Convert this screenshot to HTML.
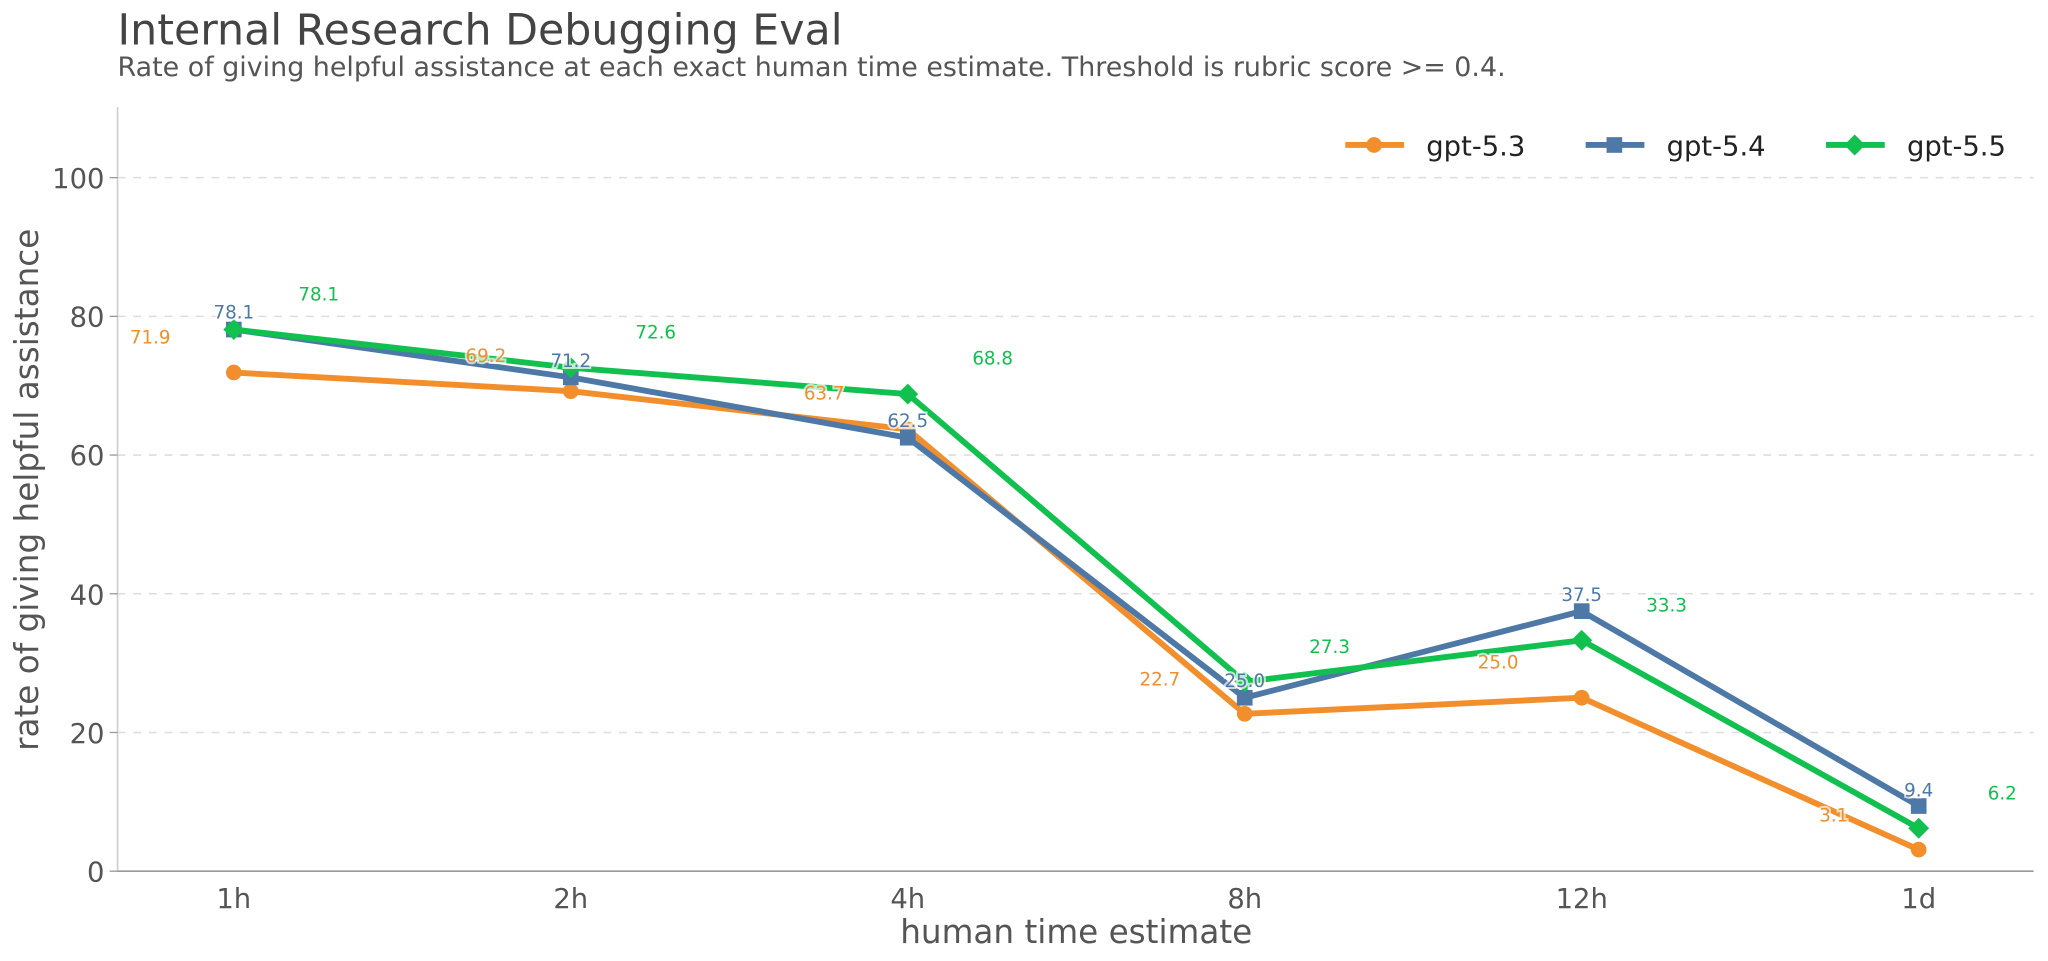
<!DOCTYPE html>
<html><head><meta charset="utf-8"><style>
html,body{margin:0;padding:0;background:#fff;}
svg{display:block;font-family:"DejaVu Sans","Liberation Sans",sans-serif;}
</style></head><body>
<svg width="2048" height="961" viewBox="0 0 1568 735.75" xmlns="http://www.w3.org/2000/svg">
<text x="90" y="34" font-size="32.7" fill="#444">Internal Research Debugging Eval</text>
<text x="90" y="58" font-size="20.6" fill="#555">Rate of giving helpful assistance at each exact human time estimate. Threshold is rubric score &gt;= 0.4.</text>
<g stroke="#ddd" stroke-width="1.2" stroke-dasharray="6,6">
<line x1="90" x2="1557" y1="560.8" y2="560.8"/>
<line x1="90" x2="1557" y1="454.6" y2="454.6"/>
<line x1="90" x2="1557" y1="348.4" y2="348.4"/>
<line x1="90" x2="1557" y1="242.2" y2="242.2"/>
<line x1="90" x2="1557" y1="136" y2="136"/>
</g>
<line x1="90" y1="82" x2="90" y2="667" stroke="#ccc" stroke-width="1.2"/>
<line x1="90" y1="667" x2="1557" y2="667" stroke="#999" stroke-width="1.2"/>
<g font-size="21" fill="#555" text-anchor="end">
<text x="80" y="675">0</text><text x="80" y="569">20</text><text x="80" y="463">40</text>
<text x="80" y="356">60</text><text x="80" y="250">80</text><text x="80" y="144">100</text>
</g>
<g stroke="#999" stroke-width="1"><line x1="84" x2="90" y1="667" y2="667"/><line x1="84" x2="90" y1="560.8" y2="560.8"/><line x1="84" x2="90" y1="454.6" y2="454.6"/><line x1="84" x2="90" y1="348.4" y2="348.4"/><line x1="84" x2="90" y1="242.2" y2="242.2"/><line x1="84" x2="90" y1="136" y2="136"/></g>
<g font-size="21" fill="#555" text-anchor="middle">
<text x="179" y="695">1h</text><text x="437" y="695">2h</text><text x="695" y="695">4h</text>
<text x="953" y="695">8h</text><text x="1211" y="695">12h</text><text x="1469" y="695">1d</text>
</g>
<text x="824" y="722" font-size="25" fill="#555" text-anchor="middle">human time estimate</text>
<text transform="translate(29,375) rotate(-90)" font-size="25" fill="#555" text-anchor="middle">rate of giving helpful assistance</text>
<polyline fill="none" stroke="#f28e2b" stroke-width="4.5" stroke-linejoin="round" points="179,285.2 437,299.5 695,328.7 953,546.5 1211,534.2 1469,650.5"/>
<g fill="#f28e2b"><circle cx="179" cy="285.2" r="6"/><circle cx="437" cy="299.5" r="6"/><circle cx="695" cy="328.7" r="6"/><circle cx="953" cy="546.5" r="6"/><circle cx="1211" cy="534.2" r="6"/><circle cx="1469" cy="650.5" r="6"/></g>
<polyline fill="none" stroke="#4e79a7" stroke-width="4.5" stroke-linejoin="round" points="179,252.3 437,288.9 695,335.1 953,534.2 1211,467.9 1469,617.1"/>
<g fill="#4e79a7"><rect x="173" y="246.3" width="12" height="12"/><rect x="431" y="282.9" width="12" height="12"/><rect x="689" y="329.1" width="12" height="12"/><rect x="947" y="528.2" width="12" height="12"/><rect x="1205" y="461.9" width="12" height="12"/><rect x="1463" y="611.1" width="12" height="12"/></g>
<polyline fill="none" stroke="#12c04f" stroke-width="4.5" stroke-linejoin="round" points="179,252.3 437,281.5 695,301.7 953,522 1211,490.2 1469,634.1"/>
<g fill="#12c04f">
<path d="M179,244.3 l8,8 l-8,8 l-8,-8z"/><path d="M437,273.5 l8,8 l-8,8 l-8,-8z"/><path d="M695,293.7 l8,8 l-8,8 l-8,-8z"/>
<path d="M953,514 l8,8 l-8,8 l-8,-8z"/><path d="M1211,482.2 l8,8 l-8,8 l-8,-8z"/><path d="M1469,626.1 l8,8 l-8,8 l-8,-8z"/></g>
<g font-size="14" text-anchor="middle" stroke="#fff" stroke-width="3" paint-order="stroke" stroke-opacity="0.7">
<g fill="#f28e2b"><text x="115" y="263">71.9</text><text x="372" y="277">69.2</text><text x="631" y="306">63.7</text><text x="888" y="525">22.7</text><text x="1147" y="512">25.0</text><text x="1404" y="629">3.1</text></g>
<g fill="#4e79a7"><text x="179" y="244">78.1</text><text x="437" y="281">71.2</text><text x="695" y="327">62.5</text><text x="953" y="526">25.0</text><text x="1211" y="460">37.5</text><text x="1469" y="610">9.4</text></g>
<g fill="#12c04f"><text x="244" y="230">78.1</text><text x="502" y="259">72.6</text><text x="760" y="279">68.8</text><text x="1018" y="500">27.3</text><text x="1276" y="468">33.3</text><text x="1533" y="612">6.2</text></g>
</g>
<line x1="1030" x2="1075" y1="111" y2="111" stroke="#f28e2b" stroke-width="4.5"/><circle cx="1052" cy="111" r="6" fill="#f28e2b"/>
<text x="1092" y="119" font-size="21" fill="#222">gpt-5.3</text>
<line x1="1214" x2="1259" y1="111" y2="111" stroke="#4e79a7" stroke-width="4.5"/><rect x="1230" y="105" width="12" height="12" fill="#4e79a7"/>
<text x="1276" y="119" font-size="21" fill="#222">gpt-5.4</text>
<line x1="1398" x2="1443" y1="111" y2="111" stroke="#12c04f" stroke-width="4.5"/><path d="M1420,103 l8,8 l-8,8 l-8,-8z" fill="#12c04f"/>
<text x="1460" y="119" font-size="21" fill="#222">gpt-5.5</text>
</svg>
</body></html>
